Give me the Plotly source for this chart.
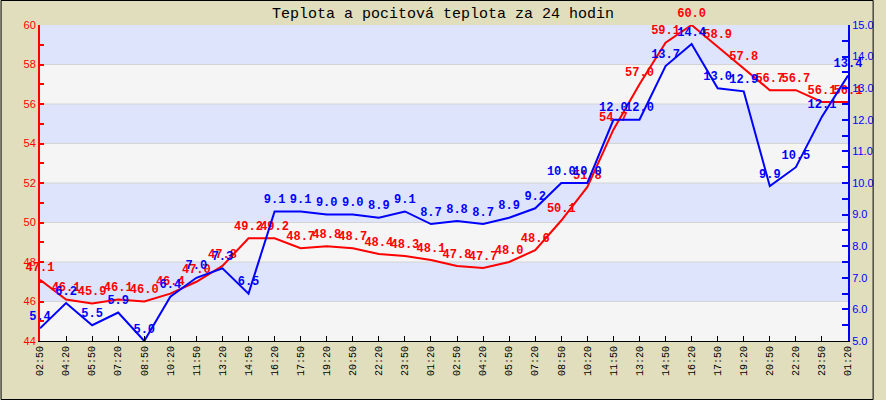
import plotly.graph_objects as go

times = ["02:50", "04:20", "05:50", "07:20", "08:50", "10:20", "11:50", "13:20",
         "14:50", "16:20", "17:50", "19:20", "20:50", "22:20", "23:50", "01:20",
         "02:50", "04:20", "05:50", "07:20", "08:50", "10:20", "11:50", "13:20",
         "14:50", "16:20", "17:50", "19:20", "20:50", "22:20", "23:50", "01:20"]
temp = [47.1, 46.1, 45.9, 46.1, 46.0, 46.4, 47.0, 47.8, 49.2, 49.2, 48.7, 48.8,
        48.7, 48.4, 48.3, 48.1, 47.8, 47.7, 48.0, 48.6, 50.1, 51.8, 54.7, 57.0,
        59.1, 60.0, 58.9, 57.8, 56.7, 56.7, 56.1, 56.1]
feel = [5.4, 6.2, 5.5, 5.9, 5.0, 6.4, 7.0, 7.3, 6.5, 9.1, 9.1, 9.0, 9.0, 8.9,
        9.1, 8.7, 8.8, 8.7, 8.9, 9.2, 10.0, 10.0, 12.0, 12.0, 13.7, 14.4, 13.0,
        12.9, 9.9, 10.5, 12.1, 13.4]
left_range = [44, 60]
right_range = [5, 15]
title = "Teplota a pocitová teplota za 24 hodin"

xs = list(range(len(times)))
W, H = 886, 400
ml, mr, mt, mb = 40, 26, 25, 59
pw, ph = W - ml - mr, H - mt - mb

fig = go.Figure()
fig.add_trace(go.Scatter(
    x=xs, y=temp, mode="lines+markers+text", yaxis="y",
    line=dict(color="#ff0000", width=2),
    marker=dict(size=7, color="rgba(0,0,0,0)"),
    text=[f"{v:.1f}" for v in temp], textposition="top center",
    textfont=dict(family="Liberation Mono", size=12, color="#ff0000", weight="bold"),
    cliponaxis=False, showlegend=False))
fig.add_trace(go.Scatter(
    x=xs, y=feel, mode="lines+markers+text", yaxis="y2",
    line=dict(color="#0000ff", width=2),
    marker=dict(size=7, color="rgba(0,0,0,0)"),
    text=[f"{v:.1f}" for v in feel], textposition="top center",
    textfont=dict(family="Liberation Mono", size=12, color="#0000ff", weight="bold"),
    cliponaxis=False, showlegend=False))

shapes = []
band_colors = ["#f5f5f5", "#dde4fb"]
for i, b in enumerate(range(left_range[0], left_range[1], 2)):
    shapes.append(dict(type="rect", xref="paper", yref="y", x0=0, x1=1, y0=b, y1=b + 2,
                       fillcolor=band_colors[i % 2], line=dict(width=0), layer="below"))
    if b > left_range[0]:
        shapes.append(dict(type="line", xref="paper", yref="y", x0=0, x1=1, y0=b, y1=b,
                           line=dict(color="#d4d4d4", width=1), layer="below"))
# outer border
shapes.append(dict(type="rect", xref="paper", yref="paper",
                   x0=-ml / pw + 0.5 / pw, x1=1 + (mr - 0.5) / pw,
                   y0=-mb / ph + 0.5 / ph, y1=1 + (mt - 0.5) / ph,
                   line=dict(color="#000000", width=1), fillcolor="rgba(0,0,0,0)"))

fig.update_layout(
    width=W, height=H,
    margin=dict(l=ml, r=mr, t=mt, b=mb),
    paper_bgcolor="#e0debc", plot_bgcolor="#f5f5f5",
    title=dict(text=title, x=0.5, xref="container", y=1 - 13 / H, yref="container",
               yanchor="middle", xanchor="center",
               font=dict(family="Liberation Mono", size=15, color="#000000")),
    shapes=shapes,
    xaxis=dict(range=[0, len(times) - 1], tickmode="array", tickvals=xs, ticktext=times,
               tickangle=-90, ticks="inside", ticklen=5, tickcolor="#000000",
               showline=True, linecolor="#000000", linewidth=1, showgrid=False,
               zeroline=False,
               tickfont=dict(family="Liberation Mono", size=10, color="#000000")),
    yaxis=dict(range=left_range, dtick=2, ticks="inside", ticklen=4, tickwidth=2,
               tickcolor="#ff0000", showline=True, linecolor="#ff0000", linewidth=2,
               showgrid=False, zeroline=False,
               minor=dict(dtick=1, ticks="inside", ticklen=4, tickcolor="#ff0000", tickwidth=2),
               tickfont=dict(family="Liberation Sans", size=11, color="#ff0000")),
    yaxis2=dict(range=right_range, dtick=1, tickformat=".1f", overlaying="y", side="right",
                ticks="inside", ticklen=6, tickwidth=2, tickcolor="#0000ff",
                showline=True, linecolor="#0000ff", linewidth=2, showgrid=False,
                zeroline=False,
                minor=dict(dtick=0.5, ticks="inside", ticklen=6, tickcolor="#0000ff", tickwidth=2),
                tickfont=dict(family="Liberation Sans", size=11, color="#0000ff")),
)

fig.write_html("out.html")
